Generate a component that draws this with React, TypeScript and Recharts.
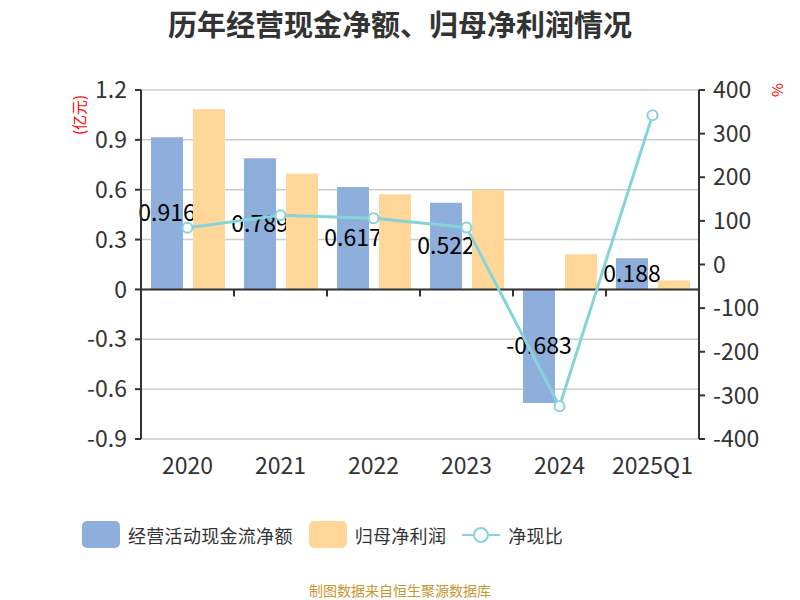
import {
  Bar,
  CartesianGrid,
  ComposedChart,
  LabelList,
  Legend,
  Line,
  ReferenceLine,
  XAxis,
  YAxis,
} from "recharts";

const years = ["2020", "2021", "2022", "2023", "2024", "2025Q1"];
const cashFlow = [0.916, 0.789, 0.617, 0.522, -0.683, 0.188];
const netProfit = [1.086, 0.696, 0.572, 0.6, 0.212, 0.054];
const cashRatio = [84, 113, 106, 85, -325, 342];

const leftTicks = [-0.9, -0.6, -0.3, 0, 0.3, 0.6, 0.9, 1.2];
const rightTicks = [-400, -300, -200, -100, 0, 100, 200, 300, 400];

const data = years.map((year, i) => ({
  year,
  cashFlow: cashFlow[i],
  netProfit: netProfit[i],
  cashRatio: cashRatio[i],
}));

const FONT = "'Noto Sans CJK SC', 'Noto Sans', sans-serif";
const BLUE = "#8eaedb";
const ORANGE = "#ffd899";
const TEAL = "#86d4d9";

// plot box: left 141, right 699, top 90, bottom 439
const PLOT_TOP = 90;
const PLOT_H = 349;
const BAND = 558 / years.length;
const zeroY = PLOT_TOP + (1.2 / 2.1) * PLOT_H;

function YearTick(props: any) {
  const { x, payload, index } = props;
  return (
    <g>
      <text
        x={x}
        y={474}
        textAnchor="middle"
        fontSize={23}
        fill="#333"
        fontFamily={FONT}
      >
        {payload.value}
      </text>
      {index < years.length - 1 && (
        <line
          x1={x + BAND / 2}
          x2={x + BAND / 2}
          y1={zeroY}
          y2={zeroY + 7}
          stroke="#333"
          strokeWidth={2}
        />
      )}
    </g>
  );
}

function LegendBox() {
  const text = { fontSize: 18, letterSpacing: 0.3, color: "#333", fontFamily: FONT };
  return (
    <div style={{ display: "flex", alignItems: "center", paddingLeft: 82 }}>
      <div style={{ width: 38, height: 27, borderRadius: 5, background: BLUE, marginRight: 8 }} />
      <span style={{ ...text, marginRight: 16 }}>经营活动现金流净额</span>
      <div style={{ width: 38, height: 27, borderRadius: 5, background: ORANGE, marginRight: 8 }} />
      <span style={{ ...text, marginRight: 16 }}>归母净利润</span>
      <svg width={38} height={20} style={{ marginRight: 8 }}>
        <line x1={0} x2={38} y1={10} y2={10} stroke={TEAL} strokeWidth={2} />
        <circle cx={19} cy={10} r={7} fill="#fff" stroke={TEAL} strokeWidth={2} />
      </svg>
      <span style={text}>净现比</span>
    </div>
  );
}

export default function App() {
  return (
    <div
      style={{
        position: "absolute",
        left: 0,
        top: 0,
        width: 800,
        height: 600,
        background: "#fff",
        fontFamily: FONT,
      }}
    >
      <div
        style={{
          position: "absolute",
          top: 2,
          width: 800,
          textAlign: "center",
          fontSize: 29,
          fontWeight: "bold",
          color: "#333",
        }}
      >
        历年经营现金净额、归母净利润情况
      </div>
      <div
        style={{
          position: "absolute",
          left: 78,
          top: 115,
          transform: "translate(-50%, -50%) rotate(-90deg)",
          color: "#f00",
          fontSize: 15,
          whiteSpace: "nowrap",
        }}
      >
        (亿元)
      </div>
      <div
        style={{
          position: "absolute",
          left: 776,
          top: 90,
          transform: "translate(-50%, -50%) rotate(-90deg)",
          color: "#f00",
          fontSize: 15,
        }}
      >
        %
      </div>
      <ComposedChart
        width={800}
        height={600}
        data={data}
        margin={{ top: PLOT_TOP, right: 0, bottom: 121, left: 0 }}
        barCategoryGap="10%"
        barGap={10}
      >
        <CartesianGrid
          yAxisId="left"
          vertical={false}
          stroke="#ccc"
          strokeWidth={1.5}
        />
        <XAxis
          dataKey="year"
          height={40}
          axisLine={false}
          tickLine={false}
          tick={<YearTick />}
          interval={0}
        />
        <YAxis
          yAxisId="left"
          width={141}
          domain={[-0.9, 1.2]}
          ticks={leftTicks}
          interval={0}
          tick={{ fontSize: 23, fill: "#333", fontFamily: FONT }}
          tickFormatter={(v: number) => String(v)}
          axisLine={{ stroke: "#333", strokeWidth: 2 }}
          tickLine={{ stroke: "#333", strokeWidth: 2 }}
          tickSize={6}
          tickMargin={8}
        />
        <YAxis
          yAxisId="right"
          orientation="right"
          width={101}
          domain={[-400, 400]}
          ticks={rightTicks}
          interval={0}
          tick={{ fontSize: 23, fill: "#333", fontFamily: FONT }}
          axisLine={{ stroke: "#333", strokeWidth: 2 }}
          tickLine={{ stroke: "#333", strokeWidth: 2 }}
          tickSize={6}
          tickMargin={8}
        />
        <ReferenceLine yAxisId="left" y={0} stroke="#333" strokeWidth={2} />
        <Bar
          yAxisId="left"
          dataKey="cashFlow"
          name="经营活动现金流净额"
          fill={BLUE}
          barSize={32}
          zIndex={300}
          isAnimationActive={false}
        >
          <LabelList
            dataKey="cashFlow"
            position="center"
            fill="#000"
            fontSize={23}
            fontFamily={FONT}
            zIndex={310}
          />
        </Bar>
        <Bar
          yAxisId="left"
          dataKey="netProfit"
          name="归母净利润"
          fill={ORANGE}
          barSize={32}
          zIndex={320}
          isAnimationActive={false}
        />
        <Line
          yAxisId="right"
          dataKey="cashRatio"
          name="净现比"
          type="linear"
          stroke={TEAL}
          strokeWidth={3}
          dot={{ r: 5, fill: "#fff", stroke: TEAL, strokeWidth: 2 }}
          zIndex={400}
          isAnimationActive={false}
        />
        <Legend
          content={<LegendBox />}
          verticalAlign="middle"
          align="center"
          wrapperStyle={{ top: 521, left: 0, width: 800, bottom: "auto" }}
        />
      </ComposedChart>
      <div
        style={{
          position: "absolute",
          top: 580,
          width: 800,
          textAlign: "center",
          fontSize: 14,
          color: "#c8962e",
        }}
      >
        制图数据来自恒生聚源数据库
      </div>
    </div>
  );
}
